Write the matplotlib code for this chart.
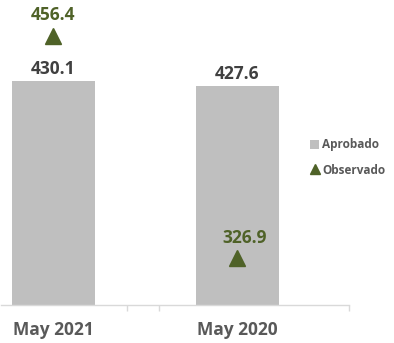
import matplotlib
matplotlib.use("Agg")
import matplotlib.pyplot as plt
from matplotlib.lines import Line2D
from matplotlib.patches import Patch

FONTS = ['Open Sans', 'DejaVu Sans']
plt.rcParams['font.family'] = FONTS
plt.rcParams['font.weight'] = 'bold'

# Data
periods = ['May 2021', 'May 2020']
aprobado = [430.1, 427.6]
observado = [456.4, 326.9]

BAR_COLOR = '#BFBFBF'
MARK_COLOR = '#4F6228'
TEXT_DARK = '#404040'
TEXT_GRAY = '#595959'
AXIS_COLOR = '#D9D9D9'

fig = plt.figure(figsize=(3.94, 3.43), dpi=100)
ax = fig.add_axes([1 / 394, (343 - 304.7) / 343, 348 / 394, 304.7 / 343])

x = list(range(len(periods)))
bars = ax.bar(x, aprobado, width=0.45, color=BAR_COLOR, zorder=2)
ax.plot(x, observado, linestyle='none', marker='^', markersize=12,
        color=MARK_COLOR, zorder=3)

# value labels
for xi, v in zip(x, aprobado):
    ax.annotate(f'{v:.1f}', (xi, v), xytext=(0, 2), textcoords='offset points',
                ha='center', va='bottom', fontsize=12.5, fontweight='bold',
                color=TEXT_DARK)
for xi, v, dx in zip(x, observado, [0, 5]):
    ax.annotate(f'{v:.1f}', (xi, v), xytext=(dx, 8.5), textcoords='offset points',
                ha='center', va='bottom', fontsize=12.5, fontweight='bold',
                color=MARK_COLOR)

ax.set_ylim(300, 477.4)
ax.set_xlim(-0.285, 1.606)

for side in ['left', 'right', 'top']:
    ax.spines[side].set_visible(False)
ax.spines['bottom'].set_color(AXIS_COLOR)
ax.spines['bottom'].set_linewidth(1)
ax.set_yticks([])

ax.set_xticks(x)
ax.set_xticklabels(periods, fontsize=12.5, fontweight='bold', color=TEXT_GRAY)
ax.tick_params(axis='x', which='major', length=0, pad=12)
ax.set_xticks([0.397, 0.576, 1.606], minor=True)
ax.tick_params(axis='x', which='minor', length=4.3, width=1, color=AXIS_COLOR)

handles = [Patch(facecolor=BAR_COLOR, edgecolor='none'),
           Line2D([], [], linestyle='none', marker='^', markersize=7, color=MARK_COLOR)]
leg = fig.legend(handles, ['Aprobado', 'Observado'], loc='center left',
                 bbox_to_anchor=(310 / 394, 1 - 157.5 / 343), frameon=False,
                 prop={'family': FONTS, 'weight': 'bold', 'size': 8.5},
                 handlelength=0.8, handleheight=0.8, handletextpad=0.25,
                 labelspacing=1.05, borderaxespad=0, borderpad=0)
for t in leg.get_texts():
    t.set_color(TEXT_GRAY)

fig.savefig('out.png', dpi=100, facecolor='white')
